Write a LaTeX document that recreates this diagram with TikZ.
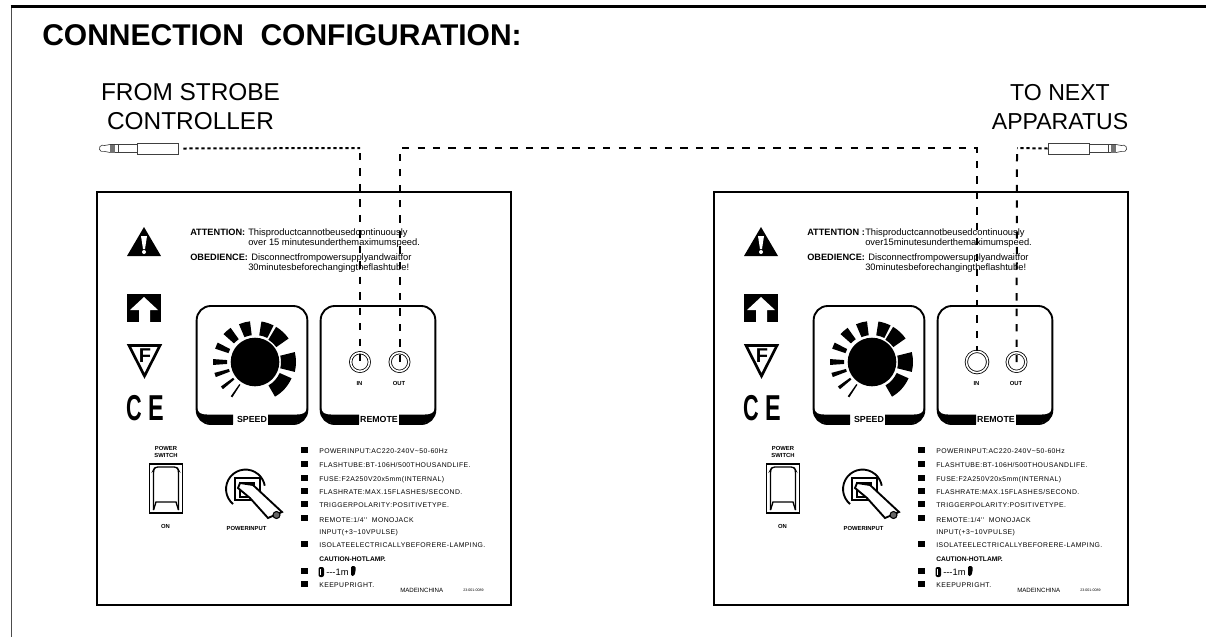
\documentclass[tikz,border=0pt]{standalone}
\usepackage{fontspec}
\setmainfont{Liberation Sans}
\newfontfamily\widefont[LetterSpace=6]{Liberation Sans}
\begin{document}
\begin{tikzpicture}[x=0.75pt,y=-0.75pt]
        \tikzstyle{panel} = [line width=1.5pt]
        \tikzstyle{notice} = [anchor=base west, inner sep=0pt, font=\fontsize{7}{8}\selectfont]
        \tikzstyle{noticehead} = [notice, font=\fontsize{6.9}{8}\selectfont\bfseries]
        \tikzstyle{spec} = [anchor=base west, inner sep=0pt, font=\fontsize{5.15}{6}\widefont]
        \tikzstyle{tag} = [anchor=base, inner sep=0pt, align=center, font=\fontsize{4.4}{6}\selectfont\bfseries]
        \tikzstyle{boxtag} = [anchor=base, inner sep=0pt, font=\fontsize{6.6}{8}\selectfont\bfseries]
        \tikzstyle{bullet} = [rectangle, fill=black, inner sep=0pt, minimum size=4.9pt]
        \tikzstyle{knobbox} = [rectangle, draw=black, line width=1.4pt, rounded corners=10.5pt, minimum height=88.5pt]
        \tikzstyle{jack} = [circle, draw=black, line width=0.6pt, inner sep=0pt, double=white, double distance=1.2pt]
        \tikzstyle{plugbody} = [rectangle, draw=black!75, line width=0.5pt, fill=white, minimum width=30.8pt, minimum height=8.4pt, inner sep=0pt]
        \tikzstyle{longcable} = [line width=1.5pt, dash pattern=on 5.5pt off 6.1pt]
        \tikzstyle{shortcable} = [line width=1.5pt, dash pattern=on 2.4pt off 2.1pt]
        \tikzstyle{heading} = [anchor=base, inner sep=0pt, align=center, font=\fontsize{18.3}{21.6}\selectfont]

        \useasboundingbox (0,0) rectangle (1206,637);
        \draw[line width=0.5pt, draw=black!70] (11,6) -- (11,637);
        \draw[line width=1.6pt] (10.5,6.5) -- (1206,6.5);

        \node (title) [anchor=base west, inner sep=0pt, font=\fontsize{22.5}{26}\selectfont\bfseries] at (42,45) {CONNECTION\ \ CONFIGURATION:};
        \node (from) [heading] at (190.5,129) {FROM STROBE\\CONTROLLER};
        \node (next) [heading, font=\fontsize{17.3}{21.6}\selectfont] at (1060,129) {TO NEXT\\APPARATUS};

        \foreach \pside/\pmid/\pdir in {l/157.5/1, r/1068.5/-1} {
            \begin{scope}[shift={(\pmid,148.5)}, xscale=\pdir]
                \draw[line width=0.5pt, draw=black!75] (-20.5,-4) -- (-47.5,-4) -- (-53,-3) arc [start angle=300, end angle=60, radius=3.4] -- (-47.5,4) -- (-20.5,4);
                \draw[line width=0.5pt, draw=black!75] (-39.5,-4) -- (-39.5,4);
                \fill[black!55] (-47.5,-4) rectangle (-42.5,4);
                \node (plug\pside) [plugbody] at (0,0) {};
            \end{scope}
        }

        \foreach \px/\pn/\attn/\overline/\injack in {0/l/{ATTENTION:}/{over 15 minutesunderthemaximumspeed.}/14pt, 617/r/{ATTENTION :}/{over15minutesunderthemaximumspeed.}/16pt} {
            \begin{scope}[shift={(\px,0)}]
                \draw[panel] (97,192) rectangle (511,605);

                \node (\pn-attn) [noticehead] at (190,235) {\attn};
                \node (\pn-attnone) [notice] at (248,235) {Thisproductcannotbeusedcontinuously};
                \node (\pn-attntwo) [notice] at (248,245) {\overline};
                \node (\pn-obed) [noticehead] at (190,260) {OBEDIENCE:};
                \node (\pn-obedone) [notice] at (251,260) {Disconnectfrompowersupplyandwaitfor};
                \node (\pn-obedtwo) [notice] at (248,270) {30minutesbeforechangingtheflashtube!};

                \fill (144,227) -- (161,256) -- (127,256) -- cycle;
                \fill[white] (141,236) -- (147,236) -- (145,249) -- (143,249) -- cycle;
                \fill[white] (144,252) circle (2);

                \fill (127,294) rectangle (161,322);
                \fill[white] (144,297) -- (158,310) -- (150,310) -- (150,322) -- (139,322) -- (139,310) -- (130,310) -- cycle;

                \draw[line width=2pt, line join=miter] (129,345.5) -- (160,345.5) -- (144.5,376) -- cycle;
                \node (\pn-fmark) [inner sep=0pt, font=\fontsize{15}{16}\selectfont\bfseries] at (145,356) {F};
                \node (\pn-cemark) [inner sep=0pt, font=\fontsize{27}{28}\selectfont\bfseries] at (145,408.5) {\scalebox{0.6}[1]{C}\hspace{5pt}\scalebox{0.65}[1]{E}};

                \node (\pn-speed) [knobbox, minimum width=83pt] at (252,365) {};
                \fill[white] (233,412) rectangle (268,426);
                \fill (196,410) .. controls (197,420) and (205,424) .. (217,424) -- (233,424) -- (233,414.5) -- (207,414.5) .. controls (201,414.5) and (198,413) .. (197,408) -- cycle;
                \fill (308,410) .. controls (307,420) and (299,424) .. (287,424) -- (268,424) -- (268,414.5) -- (297,414.5) .. controls (303,414.5) and (306,413) .. (307,408) -- cycle;
                \node (\pn-speedtag) [boxtag] at (252,422) {SPEED};

                \fill (255,362) circle (24.3);
                \foreach \a/\d/\ri/\ro in {124/1.3/27/42, 142/2.3/27/42, 162/3/27/42, 180/4/28/42, 203/4.5/28/42, 228/6.5/28/42, 255/8/27/41, 288/9/27/41, 313/12/26/41, 360/14/26/41, 42/18/27/40} {
                    \fill[shift={(255,362)}] ({\a-\d}:\ri) -- ({\a-\d}:\ro) arc [start angle=\a-\d, end angle=\a+\d, radius=\ro] -- ({\a+\d}:\ri) arc [start angle=\a+\d, end angle=\a-\d, radius=\ri] -- cycle;
                }

                \node (\pn-remote) [knobbox, minimum width=86pt] at (378,365) {};
                \fill[white] (359,412) rectangle (399,426);
                \fill (320,410) .. controls (321,420) and (329,424) .. (341,424) -- (359,424) -- (359,414.5) -- (331,414.5) .. controls (325,414.5) and (322,413) .. (321,408) -- cycle;
                \fill (436,410) .. controls (435,420) and (427,424) .. (415,424) -- (399,424) -- (399,414.5) -- (425,414.5) .. controls (431,414.5) and (434,413) .. (435,408) -- cycle;
                \node (\pn-remotetag) [boxtag] at (379,422.5) {REMOTE};

                \node (\pn in) [jack, minimum size=\injack] at (360,362) {};
                \node (\pn out) [jack, minimum size=14pt] at (399.5,362) {};
                \node (\pn-intag) [tag] at (359.5,385) {IN};
                \node (\pn-outtag) [tag] at (399,385) {OUT};

                \node (\pn-powertag) [tag] at (166,457) {POWER\\[-1.4pt]SWITCH};
                \node (\pn-switch) [rectangle, draw=black, line width=1.1pt, minimum width=25pt, minimum height=36.5pt, inner sep=0pt] at (166,488.5) {};
                \draw[line width=1pt, rounded corners=2pt] (153.5,510) -- (153.5,470) -- (155,467) -- (177,467) -- (178.5,470) -- (178.5,510);
                \draw[line width=1pt] (153.5,510) -- (156,502) -- (176,502) -- (178.5,510);
                \node (\pn-ontag) [tag] at (165.5,528) {ON};

                \draw[line width=1.4pt] (233,504) arc [start angle=130, end angle=350, radius=19.5];
                \draw[line width=1.4pt] (235,478) rectangle (260,500);
                \draw[line width=0.8pt] (240,483) rectangle (254,497);
                \fill[white, draw=black, line width=1.4pt] (240,483) -- (253,485) -- (282,512) -- (268,518) -- (250,498) -- (238,488) -- cycle;
                \fill[black!60, draw=black, line width=0.8pt] (276.5,515) circle (3.5);
                \node (\pn-inputtag) [tag] at (246.5,530) {POWERINPUT};

                \foreach \by/\ty/\txt in {450/453/{POWERINPUT:AC220-240V\textasciitilde50-60Hz}, 464/467/{FLASHTUBE:BT-106H/500THOUSANDLIFE.}, 478/481/{FUSE:F2A250V20x5mm(INTERNAL)}, 491/494.6/{FLASHRATE:MAX.15FLASHES/SECOND.}, 504/507.5/{TRIGGERPOLARITY:POSITIVETYPE.}, 518/522/{REMOTE:1/4''\ \ MONOJACK}, 544/547.6/{ISOLATEELECTRICALLYBEFORERE-LAMPING.}, 584/587/{KEEPUPRIGHT.}} {
                    \node (\pn-bullet\by) [bullet] at (304.5,\by) {};
                    \node (\pn-spec\by) [spec] at (319,\ty) {\txt};
                }
                \node (\pn-bullet571) [bullet] at (304.5,571) {};
                \node (\pn-specinput) [spec] at (319,534.6) {INPUT(+3\textasciitilde10VPULSE)};
                \node (\pn-caution) [spec, font=\fontsize{5}{6}\selectfont\bfseries] at (319,561) {CAUTION-HOTLAMP.};
                \fill[rounded corners=1.5pt] (318.5,567) rectangle (324,577);
                \draw[white, line width=0.3pt] (320,569) -- (320,575);
                \node (\pn-cablelength) [anchor=base west, inner sep=0pt, font=\fontsize{7}{8}\selectfont] at (326,575) {-{}-{}-1m};
                \fill[rounded corners=1pt] (351,566) -- (355.5,566) -- (355.5,572) -- (354,576) -- (351,576) -- cycle;
                \node (\pn-made) [anchor=base west, inner sep=0pt, font=\fontsize{4.6}{6}\selectfont] at (400,592) {MADEINCHINA};
                \node (\pn-partno) [anchor=base west, inner sep=0pt, font=\fontsize{2.7}{3}\selectfont] at (463,591.5) {23-001-0089};
            \end{scope}
        }

        \coordinate (cornerl) at (360,148);
        \coordinate (cornerm) at (399.5,148);
        \coordinate (cornern) at (977,148);
        \coordinate (cornerr) at (1017,148);

        \draw[shortcable] (plugl.east) ++(5,0) -- (cornerl);
        \draw[longcable] (cornerl) ++(0,5) -- (lin.center);
        \draw[longcable] (lout.center) -- (cornerm) -- (cornern) -- (rin.north);
        \draw[shortcable] (plugr.west) -- (cornerr);
        \draw[longcable] (cornerr) ++(0,6) -- (rout.center);
\end{tikzpicture}
\end{document}
